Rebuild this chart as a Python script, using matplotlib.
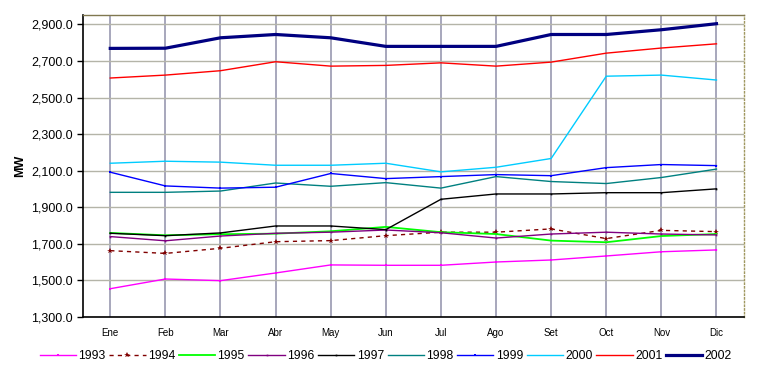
import matplotlib
matplotlib.use("Agg")
import matplotlib.pyplot as plt
import numpy as np
from matplotlib.ticker import FuncFormatter, FixedLocator

months = ["Ene", "Feb", "Mar", "Abr", "May", "Jun", "Jul", "Ago", "Set", "Oct", "Nov", "Dic"]

y1993 = [1455, 1508, 1499, 1541, 1585, 1583, 1583, 1601, 1612, 1634, 1657, 1667]
y1994 = [1663, 1648, 1676, 1712, 1718, 1745, 1764, 1764, 1782, 1729, 1774, 1767]
y1995 = [1760, 1747, 1753, 1756, 1769, 1793, 1764, 1754, 1718, 1709, 1743, 1754]
y1996 = [1740, 1717, 1743, 1758, 1764, 1776, 1761, 1732, 1754, 1764, 1754, 1749]
y1997 = [1758, 1745, 1760, 1798, 1798, 1778, 1944, 1973, 1973, 1980, 1980, 2001]
y1998 = [1982, 1982, 1989, 2033, 2015, 2035, 2005, 2068, 2041, 2030, 2063, 2109]
y1999 = [2092, 2017, 2005, 2010, 2085, 2057, 2068, 2079, 2073, 2117, 2134, 2128]
y2000 = [2141, 2152, 2147, 2130, 2130, 2141, 2094, 2119, 2167, 2617, 2623, 2596]
y2001 = [2607, 2623, 2647, 2696, 2672, 2676, 2690, 2672, 2694, 2743, 2771, 2794]
y2002 = [2769, 2770, 2827, 2845, 2827, 2780, 2780, 2780, 2845, 2845, 2871, 2904]

yticks = [1300, 1500, 1700, 1900, 2100, 2300, 2500, 2700, 2900]

series = [
    ("1993", y1993, dict(color="#FF00FF", lw=1.0, marker="s", ms=1.5, mew=0)),
    ("1994", y1994, dict(color="#800000", lw=1.0, ls=(0, (3, 3)), marker="*", ms=4, mew=0)),
    ("1995", y1995, dict(color="#00FF00", lw=1.3)),
    ("1996", y1996, dict(color="#800080", lw=1.0, marker="s", ms=1.2, mew=0)),
    ("1997", y1997, dict(color="#000000", lw=1.0, marker="s", ms=1.2, mew=0)),
    ("1998", y1998, dict(color="#008080", lw=1.0)),
    ("1999", y1999, dict(color="#0000FF", lw=1.0, marker="s", ms=1.8, mew=0)),
    ("2000", y2000, dict(color="#00CCFF", lw=1.0)),
    ("2001", y2001, dict(color="#FF0000", lw=1.0)),
    ("2002", y2002, dict(color="#000080", lw=2.3)),
]

plt.rcParams["font.family"] = ["Liberation Sans", "DejaVu Sans"]

fig = plt.figure(figsize=(7.61, 3.73), dpi=100)
ax = fig.add_axes([0.1087, 0.150, 0.9777 - 0.1087, 0.959 - 0.150])

x = list(range(len(months)))
handles = []
for name, vals, st in series:
    h, = ax.plot(x, vals, label=name, **st)
    handles.append(h)

ax.set_xlim(-0.5, len(months) - 0.5)
ax.set_ylim(1300, 2950)
ax.yaxis.set_major_locator(FixedLocator(yticks))
ax.yaxis.set_major_formatter(FuncFormatter(lambda v, p: f"{v:,.1f}"))
ax.set_xticks(x)
ax.set_xticklabels(months, fontsize=7)
ax.tick_params(axis="x", length=0, pad=8)
ax.tick_params(axis="y", labelsize=9, length=4, width=1, direction="out", pad=3)

ax.set_axisbelow(True)
ax.yaxis.grid(True, color="#B4B4A8", lw=1.0)
ax.xaxis.grid(True, color="#9898B0", lw=1.2)

for s in ["left", "bottom"]:
    ax.spines[s].set_color("black")
    ax.spines[s].set_linewidth(1.2)
ax.spines["top"].set_color("#807850")
ax.spines["top"].set_linewidth(1.0)
ax.spines["right"].set_color("#A09860")
ax.spines["right"].set_linewidth(1.0)
ax.spines["right"].set_linestyle(":")

fig.text(0.026, 0.555, "MW", rotation=90, fontsize=9, fontweight="bold",
         ha="center", va="center")

fig.legend(handles=handles, loc="center", bbox_to_anchor=(0.507, 0.046), ncol=10,
           frameon=False, fontsize=8.7, handlelength=3.0, handletextpad=0.2,
           columnspacing=0.3, borderaxespad=0)

fig.savefig("out.png", dpi=100)
